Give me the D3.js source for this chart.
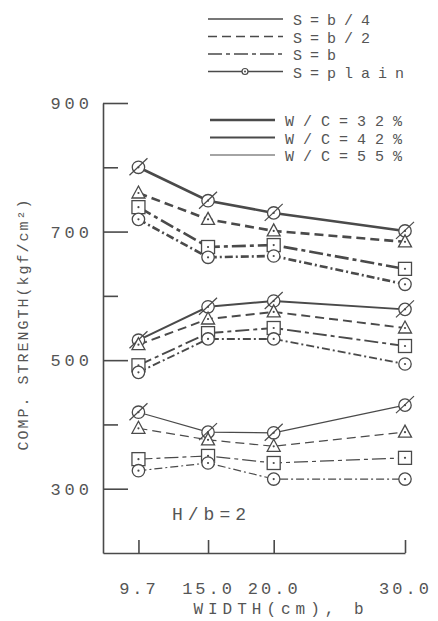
<!DOCTYPE html>
<html>
<head>
<meta charset="utf-8">
<script src="https://cdn.jsdelivr.net/npm/d3@7"></script>
<style>
  body { margin: 0; background: #fff; }
  text { font-family: "Liberation Mono", monospace; fill: #555; }
</style>
</head>
<body>
<svg id="chart" width="438" height="621"></svg>
<script>
// widths b (cm)
var widths = [9.7, 15.0, 20.0, 30.0];
var sLabels = ["S=b/4", "S=b/2", "S=b", "S=plain"];
var wcLabels = ["W/C=32%", "W/C=42%", "W/C=55%"];

// comp. strength (kgf/cm2), one array per W/C and S
var wc32_b4 = [800, 748, 729, 701];
var wc32_b2 = [760, 719, 701, 684];
var wc32_b = [738, 676, 679, 642];
var wc32_plain = [719, 660, 662, 618];

var wc42_b4 = [531, 583, 592, 579];
var wc42_b2 = [524, 564, 575, 550];
var wc42_b = [492, 542, 550, 522];
var wc42_plain = [481, 533, 533, 494];

var wc55_b4 = [419, 388, 387, 430];
var wc55_b2 = [394, 376, 366, 388];
var wc55_b = [346, 351, 340, 348];
var wc55_plain = [328, 340, 315, 315];

var yMajor = [300, 500, 700, 900];
var yMinor = [400, 600, 800];

var groups = [
  [wc32_b4, wc32_b2, wc32_b, wc32_plain],
  [wc42_b4, wc42_b2, wc42_b, wc42_plain],
  [wc55_b4, wc55_b2, wc55_b, wc55_plain]
];

var ink = "#4a4a4a";
var wcWidth = [2.6, 1.9, 1.2];
var sDash = [null, "9,5", "14,4,4,4", "8,3,2,3"];

var svg = d3.select("#chart");

var x = d3.scaleLinear().domain([7, 30]).range([103, 405]);
var y = d3.scaleLinear().domain([200, 900]).range([553, 103]);

// axes
var yAx = svg.append("g").attr("transform", "translate(103,0)")
  .call(d3.axisLeft(y).tickValues(yMajor).tickSizeInner(-25).tickSizeOuter(0).tickPadding(14));
var yMin = svg.append("g").attr("transform", "translate(103,0)")
  .call(d3.axisLeft(y).tickValues(yMinor).tickSizeInner(-15).tickSizeOuter(0).tickFormat(""));
yMin.select(".domain").remove();

var xAx = svg.append("g").attr("transform", "translate(0,553)")
  .call(d3.axisBottom(x).tickValues(widths).tickFormat(d3.format(".1f")).tickSizeInner(-13).tickSizeOuter(0).tickPadding(29));

[yAx, yMin, xAx].forEach(function(g) {
  g.selectAll("path, line").attr("stroke", ink).attr("stroke-width", 1.6);
  g.selectAll("text").attr("fill", "#555").style("font-family", "Liberation Mono")
    .style("font-size", "17px").style("letter-spacing", "3px");
});
yAx.selectAll("text").style("letter-spacing", "4px").attr("dx", "4px");

// series lines
var line = d3.line().x(function(d, i) { return x(widths[i]); }).y(function(d) { return y(d); });

groups.forEach(function(grp, gi) {
  grp.forEach(function(vals, si) {
    svg.append("path").datum(vals)
      .attr("d", line)
      .attr("fill", "none")
      .attr("stroke", ink)
      .attr("stroke-width", wcWidth[gi])
      .attr("stroke-dasharray", sDash[si]);
  });
});

// markers
function marker(g, si) {
  var m;
  if (si === 0 || si === 3) {
    m = g.append("circle").attr("r", 6.2);
  } else if (si === 1) {
    m = g.append("path").attr("d", "M0,-7L6.5,5L-6.5,5Z");
  } else {
    m = g.append("rect").attr("x", -6.5).attr("y", -6.5).attr("width", 13).attr("height", 13);
  }
  m.attr("fill", "#fff").attr("stroke", ink).attr("stroke-width", 1.3);
  g.append("circle").attr("r", 1.1).attr("fill", ink);
  if (si === 0) {
    g.append("line").attr("x1", -9).attr("y1", 8).attr("x2", 9).attr("y2", -9)
      .attr("stroke", ink).attr("stroke-width", 1.2);
  }
}

groups.forEach(function(grp) {
  grp.forEach(function(vals, si) {
    vals.forEach(function(v, i) {
      var g = svg.append("g").attr("transform", "translate(" + x(widths[i]) + "," + y(v) + ")");
      marker(g, si);
    });
  });
});

// legend: S
var sLeg = svg.append("g");
sLabels.forEach(function(s, i) {
  var ly = 19 + i * 17.5;
  sLeg.append("line").attr("x1", 208).attr("x2", 283).attr("y1", ly).attr("y2", ly)
    .attr("stroke", ink).attr("stroke-width", 1.4)
    .attr("stroke-dasharray", i === 3 ? null : sDash[i]);
  if (i === 3) {
    sLeg.append("circle").attr("cx", 245).attr("cy", ly).attr("r", 3)
      .attr("fill", "#fff").attr("stroke", ink).attr("stroke-width", 1.2);
    sLeg.append("circle").attr("cx", 245).attr("cy", ly).attr("r", 1).attr("fill", ink);
  }
  sLeg.append("text").attr("x", 293).attr("y", ly + 6)
    .style("font-size", "15px").style("letter-spacing", "8px").text(s);
});

// legend: W/C
var wLeg = svg.append("g");
wcLabels.forEach(function(s, i) {
  var ly = 120 + i * 17.5;
  wLeg.append("line").attr("x1", 210).attr("x2", 275).attr("y1", ly).attr("y2", ly)
    .attr("stroke", ink).attr("stroke-width", wcWidth[i]);
  wLeg.append("text").attr("x", 285).attr("y", ly + 6)
    .style("font-size", "15px").style("letter-spacing", "9px").text(s);
});

// H/b note
svg.append("text").attr("x", 172).attr("y", 520)
  .style("font-size", "18px").style("letter-spacing", "5px").text("H/b=2");

// axis titles
svg.append("text").attr("x", 281).attr("y", 614).attr("text-anchor", "middle")
  .style("font-size", "16px").style("letter-spacing", "5px").text("WIDTH(cm), b");

svg.append("text").attr("transform", "translate(28,324) rotate(-90)").attr("text-anchor", "middle")
  .style("font-size", "15px").style("letter-spacing", "2px").text("COMP. STRENGTH(kgf/cm²)");
</script>
</body>
</html>
